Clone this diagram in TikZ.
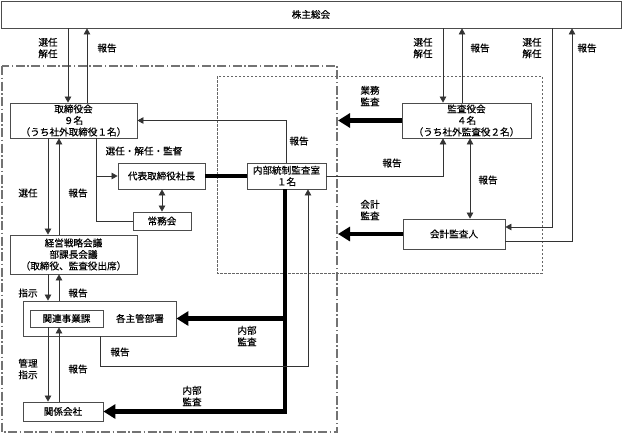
\documentclass[tikz,border=0pt]{standalone}
\usepackage{fontspec}
\setmainfont{Noto Sans CJK JP}[BoldFont={Noto Sans CJK JP},BoldFeatures={FakeBold=0.35}]
\usetikzlibrary{arrows.meta}
\begin{document}
\begin{tikzpicture}[x=1pt,y=-1pt,
 every node/.style={font=\fontsize{9.6}{11.5}\selectfont\bfseries},
 box/.style={draw=black!70,line width=0.8pt,inner sep=0pt,align=center,fill=white},
 lbl/.style={inner sep=0pt,align=center},
 conn/.style={draw=black!80,line width=0.7pt},
 arr/.style={conn,-{Triangle[length=6pt,width=6.5pt]}},
 darr/.style={conn,{Triangle[length=6pt,width=6.5pt]}-{Triangle[length=6pt,width=6.5pt]}},
 heavy/.style={draw=black,line width=4.5pt},
 heavyarr/.style={heavy,-{Triangle[length=12pt,width=14pt]}},
 region/.style={draw=black!55,line width=1.4pt,dash pattern=on 9pt off 2.5pt on 1.5pt off 2.5pt},
 subregion/.style={draw=black!60,line width=0.6pt,dash pattern=on 2.5pt off 1.5pt},
]
\useasboundingbox[fill=white] (0,0) rectangle (623,434);

% regions
\draw[region] (2,66) rectangle (337,432);
\draw[subregion] (217,76) rectangle (542,273);

% nodes
\node[box,minimum width=620pt,minimum height=27pt] (gm) at (311,14.5) {株主総会};
\node[box,minimum width=127pt,minimum height=35pt] (board) at (73.5,120.5) {取締役会\\９名\\（うち社外取締役１名）};
\node[box,minimum width=87pt,minimum height=26pt] (pres) at (161.5,176) {代表取締役社長};
\node[box,minimum width=58pt,minimum height=18pt] (jomu) at (162,221) {常務会};
\node[box,minimum width=79pt,minimum height=26pt] (naibu) at (286.5,176) {内部統制監査室\\１名};
\node[box,minimum width=129pt,minimum height=35pt] (kansa) at (466.5,120.5) {監査役会\\４名\\（うち社外監査役２名）};
\node[box,minimum width=102pt,minimum height=30pt] (kaikei) at (454,234) {会計監査人};
\node[box,minimum width=127pt,minimum height=39pt] (keiei) at (73.5,254.5) {経営戦略会議\\部課長会議\\（取締役、監査役出席）};
\node[box,minimum width=153pt,minimum height=35pt] (kakushu) at (99.5,318.5) {};
\node[box,minimum width=73pt,minimum height=17pt] (kanren) at (66.5,318.5) {関連事業課};
\node[lbl] (kakushulbl) at (140,318.5) {各主管部署};
\node[box,minimum width=80pt,minimum height=19pt] (kankei) at (63,411.5) {関係会社};

% helper coordinates
\coordinate (xa) at (48,0);
\coordinate (xb) at (59,0);
\coordinate (xc) at (68,0);
\coordinate (xd) at (87,0);
\coordinate (xe) at (96,0);
\coordinate (xg) at (443,0);
\coordinate (xh) at (462,0);
\coordinate (xi) at (470,0);
\coordinate (kin) at (552,227);
\coordinate (kout) at (572,241);
\coordinate (hx) at (285,0);
\coordinate (rq) at (100,366);
\coordinate (rp) at (308,366);
\coordinate (gyomu) at (338,120.5);
\coordinate (kaikeiend) at (338,234);

% connectors
\draw[arr] (gm.south -| xc) -- (board.north -| xc);
\draw[arr] (board.north -| xd) -- (gm.south -| xd);
\draw[arr] (gm.south -| xg) -- (kansa.north -| xg);
\draw[arr] (kansa.north -| xh) -- (gm.south -| xh);
\draw[arr] (gm.south -| kin) -- (kin) -- (kaikei.east |- kin);
\draw[arr] (kaikei.east |- kout) -- (kout) -- (gm.south -| kout);
\draw[arr] (naibu.north) -- (naibu.north |- board.east) -- (board.east);
\draw[arr] (board.south -| xe) -- (xe |- pres.west) -- (pres.west);
\draw[conn] (xe |- pres.west) -- (xe |- jomu.west) -- (jomu.west);
\draw[darr] (pres.south -| jomu.north) -- (jomu.north);
\draw[heavy] (pres.east) -- (naibu.west);
\draw[arr] (naibu.east) -- (naibu.east -| xg) -- (kansa.south -| xg);
\draw[darr] (kansa.south -| xi) -- (kaikei.north -| xi);
\draw[heavyarr] (kansa.west) -- (gyomu);
\draw[heavyarr] (kaikei.west) -- (kaikeiend);
\draw[heavyarr] (naibu.south -| hx) -- (hx |- kankei.east) -- (kankei.east);
\draw[heavyarr] (hx |- kakushu.east) -- (kakushu.east);
\draw[arr] (kakushu.south -| rq) -- (rq) -- (rp) -- (naibu.south -| rp);
\draw[arr] (board.south -| xa) -- (keiei.north -| xa);
\draw[arr] (keiei.north -| xb) -- (board.south -| xb);
\draw[arr] (keiei.south -| xa) -- (kakushu.north -| xa);
\draw[arr] (kakushu.north -| xb) -- (keiei.south -| xb);
\draw[arr] (kanren.south -| xa) -- (kankei.north -| xa);
\draw[arr] (kankei.north -| xb) -- (kanren.south -| xb);

% labels
\node[lbl] (l1) at (48,48) {選任\\解任};
\node[lbl] (l2) at (107,48) {報告};
\node[lbl] (l3) at (423,48) {選任\\解任};
\node[lbl] (l4) at (480,48) {報告};
\node[lbl] (l5) at (532,48) {選任\\解任};
\node[lbl] (l6) at (587,48) {報告};
\node[lbl] (l7) at (299,141) {報告};
\node[lbl] (l8) at (144,151) {選任・解任・監督};
\node[lbl] (l9) at (370,96) {業務\\監査};
\node[lbl] (l10) at (392,163) {報告};
\node[lbl] (l11) at (488,180) {報告};
\node[lbl] (l12) at (370,210) {会計\\監査};
\node[lbl] (l13) at (28,193) {選任};
\node[lbl] (l14) at (78,193) {報告};
\node[lbl] (l15) at (28,293) {指示};
\node[lbl] (l16) at (78,293) {報告};
\node[lbl] (l17) at (247,336) {内部\\監査};
\node[lbl] (l18) at (120,352) {報告};
\node[lbl] (l19) at (28,369) {管理\\指示};
\node[lbl] (l20) at (78,369) {報告};
\node[lbl] (l21) at (192,396) {内部\\監査};
\end{tikzpicture}
\end{document}
